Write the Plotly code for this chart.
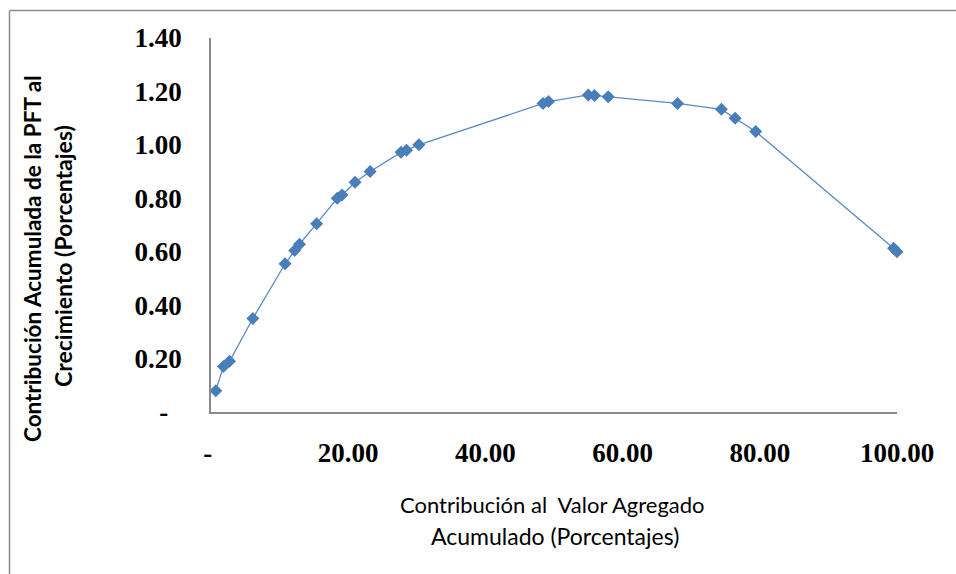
import plotly.graph_objects as go

# Data
x_valor_agregado = [0.7, 1.8, 2.7, 6.1, 10.8, 12.2, 12.9, 15.4, 18.4, 19.1, 21.0, 23.2,
                    27.7, 28.5, 30.3, 48.4, 49.2, 55.0, 55.9, 57.9, 68.0, 74.4, 76.4,
                    79.4, 99.5, 100.0]
y_pft = [0.08, 0.17, 0.19, 0.35, 0.555, 0.605, 0.628, 0.705, 0.80, 0.812, 0.86, 0.90,
         0.972, 0.98, 1.00, 1.155, 1.162, 1.187, 1.185, 1.18, 1.155, 1.133, 1.10,
         1.05, 0.613, 0.60]

x_tickvals = [0, 20, 40, 60, 80, 100]
x_ticktext = ["-\u00a0", "20.00", "40.00", "60.00", "80.00", "100.00"]
y_tickvals = [0, 0.2, 0.4, 0.6, 0.8, 1.0, 1.2, 1.4]
y_ticktext = ["-\u00a0\u00a0", "0.20", "0.40", "0.60", "0.80", "1.00", "1.20", "1.40"]

x_title_lines = ["Contribución al  Valor Agregado", "Acumulado (Porcentajes)"]
y_title_lines = ["Contribución Acumulada de la PFT al", "Crecimiento (Porcentajes)"]

W, H = 956, 574
L, R, T, B = 211, 59, 38, 162
pw, ph = W - L - R, H - T - B


def px(xp):
    return (xp - L) / pw


def py(yp):
    return (H - B - yp) / ph


fig = go.Figure()
fig.add_trace(go.Scatter(
    x=x_valor_agregado, y=y_pft, mode="lines+markers",
    line=dict(color="#5A8AC6", width=1.3),
    marker=dict(symbol="diamond", size=10, color="#4A7EBB",
                line=dict(width=0)),
    showlegend=False, cliponaxis=False,
))

tick_font = dict(family="Liberation Serif", size=27, color="#000000", weight="bold")

fig.update_xaxes(
    range=[0, 100], tickvals=x_tickvals, ticktext=x_ticktext,
    showgrid=False, zeroline=False, showline=True, linecolor="#898989", linewidth=1.5,
    ticks="", tickfont=tick_font, ticklabelstandoff=16,
)
fig.update_yaxes(
    range=[0, 1.4], tickvals=y_tickvals, ticktext=y_ticktext,
    showgrid=False, zeroline=False, showline=True, linecolor="#898989", linewidth=1.5,
    ticks="", tickfont=tick_font, ticklabelstandoff=22,
)

annots = []
annots.append(dict(text=x_title_lines[0], x=px(552), y=py(505), xref="paper", yref="paper",
                   showarrow=False, font=dict(family="Lato", size=22, color="#000000"),
                   xanchor="center", yanchor="middle"))
annots.append(dict(text=x_title_lines[1], x=px(555), y=py(536), xref="paper", yref="paper",
                   showarrow=False, font=dict(family="Lato", size=23, color="#000000"),
                   xanchor="center", yanchor="middle"))
annots.append(dict(text=y_title_lines[0], x=px(32), y=py(259), xref="paper", yref="paper",
                   showarrow=False,
                   font=dict(family="Lato", size=22.5, color="#000000", weight="bold"),
                   textangle=-90, xanchor="center", yanchor="middle"))
annots.append(dict(text=y_title_lines[1], x=px(63), y=py(256), xref="paper", yref="paper",
                   showarrow=False,
                   font=dict(family="Lato", size=23, color="#000000", weight="bold"),
                   textangle=-90, xanchor="center", yanchor="middle"))

shapes = [
    dict(type="line", xref="paper", yref="paper", x0=px(9.5), x1=px(9.5), y0=py(10.5), y1=py(H + 5),
         line=dict(color="#8C8C8C", width=1.5)),
    dict(type="line", xref="paper", yref="paper", x0=px(9.5), x1=px(W + 5), y0=py(10.5), y1=py(10.5),
         line=dict(color="#8C8C8C", width=1.5)),
]

fig.update_layout(
    width=W, height=H,
    margin=dict(l=L, r=R, t=T, b=B, pad=0),
    paper_bgcolor="white", plot_bgcolor="white",
    annotations=annots, shapes=shapes,
)

fig.write_html(
    "out.html",
    config={"displayModeBar": False},
    post_script="document.body.style.margin='0';document.body.style.overflow='hidden';",
)
